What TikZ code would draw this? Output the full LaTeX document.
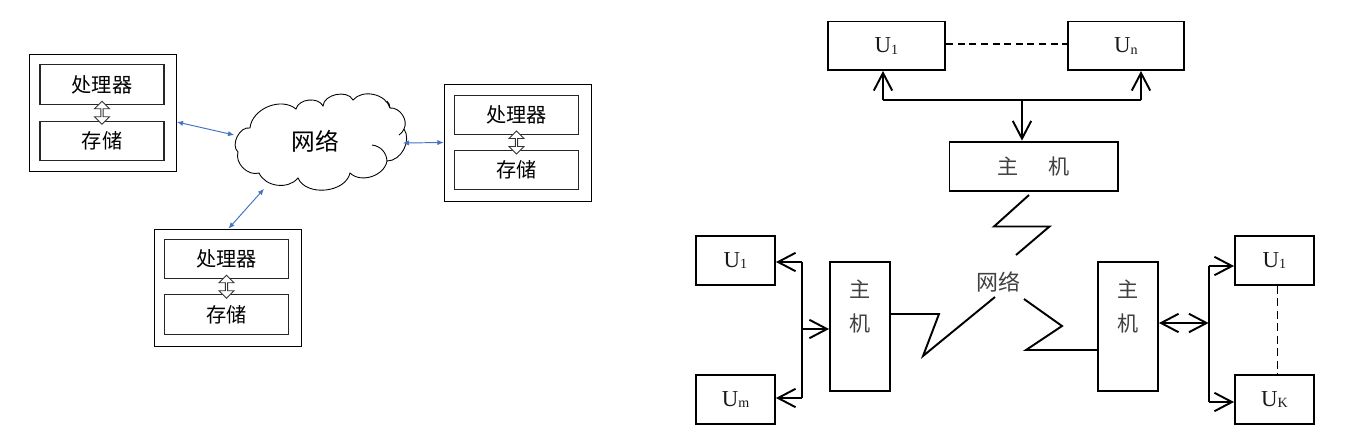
\documentclass[tikz,border=0pt]{standalone}
\usepackage{fontspec}
\setmainfont{Liberation Serif}
\newfontfamily\cjk{Noto Sans CJK SC}
\usetikzlibrary{arrows.meta,calc,shapes.arrows}
\newcommand{\Usub}[1]{U\raisebox{-1pt}{\fontsize{8}{8}\selectfont #1}}
\definecolor{linkblue}{rgb}{0.27,0.45,0.77}
\tikzset{
  pcbox/.style={draw=black,line width=0.45pt,minimum width=2.94cm,minimum height=2.34cm,inner sep=0pt},
  partbox/.style={draw=black!85,line width=0.7pt,minimum width=2.48cm,minimum height=0.79cm,inner sep=0pt,
    font=\cjk\fontsize{11.5}{14}\selectfont,text=black},
  busarrow/.style={draw=black!80,fill=white,line width=0.5pt,double arrow,shape border rotate=90,
    minimum height=0.46cm,minimum width=0.3cm,double arrow head extend=0.05cm,inner sep=0pt},
  netlink/.style={draw=linkblue,line width=0.55pt,{Latex[length=3.5pt,width=3pt]}-{Latex[length=3.5pt,width=3pt]}},
  userbox/.style={draw=black,line width=1.1pt,inner sep=0pt,font=\fontsize{13}{14}\selectfont,text=black!90},
  hostlabel/.style={font=\cjk\fontsize{12}{19.3}\selectfont,align=center,text=black!75},
  wire/.style={draw=black,line width=1.1pt},
  barb/.style={wire,-{Straight Barb[length=10pt,width=10.5pt]}},
  dbarb/.style={wire,{Straight Barb[length=10pt,width=10.5pt]}-{Straight Barb[length=10pt,width=10.5pt]}},
}
\begin{document}
\begin{tikzpicture}[x=0.02cm,y=-0.02cm]
%
\useasboundingbox (0,0) rectangle (1350,444);
%
\node[pcbox] (pcA) at (103,112.5) {};
\node[pcbox] (pcB) at (517.5,142.5) {};
\node[pcbox] (pcC) at (227.5,287.5) {};
\node[partbox] (cpuA) at (102,84.5) {处理器};
\node[partbox] (memA) at (102,141) {存储};
\node[partbox] (cpuB) at (516.5,115) {处理器};
\node[partbox] (memB) at (516.5,170) {存储};
\node[partbox] (cpuC) at (226.5,259) {处理器};
\node[partbox] (memC) at (226.5,314.5) {存储};
%
\node[busarrow] (busA) at ($(cpuA.south)!.5!(memA.north)$) {};
\node[busarrow] (busB) at ($(cpuB.south)!.5!(memB.north)$) {};
\node[busarrow] (busC) at ($(cpuC.south)!.5!(memC.north)$) {};
%
\node[minimum width=3.46cm,minimum height=1.9cm,inner sep=0pt] (net) at (322,141) {};
\node[font=\cjk\fontsize{13.5}{15}\selectfont,text=black,inner sep=0pt] (netText) at (315,141) {网络};
\draw[black,line width=0.5pt] (238,152) to[bend left=75] (250,128) to[bend left=62] (296,109)
  to[bend left=70] (323,106) to[bend left=75] (353,100) to[bend left=62] (390,108)
  to[bend left=62] (404,129) to[bend left=62] (387,161) to[bend left=62] (350,173)
  to[bend left=72] (298,178) to[bend left=58] (259,173) to[bend left=62] (238,152);
\draw[black,line width=0.5pt] (404,129) to[bend left=15] (399,135);
\draw[black,line width=0.5pt] (387,161) to[bend right=40] (372,145);
\draw[black,line width=0.5pt] (390,108) to[bend right=20] (387,101);
%
\draw[netlink] ([yshift=-0.19cm]pcA.east) -- ([xshift=-0.02cm,yshift=0.12cm]net.west);
\draw[netlink] ([xshift=-0.12cm,yshift=-0.04cm]net.east) -- ([yshift=-0.0cm]pcB.west);
\draw[netlink] ([xshift=0.02cm]pcC.north) -- ([xshift=-1.16cm]net.south);
%
\node[userbox,minimum width=2.35cm,minimum height=0.97cm] (topU) at (886.5,45.75) {\Usub{1}};
\node[userbox,minimum width=2.32cm,minimum height=0.97cm] (topN) at (1126,45.75) {\Usub{n}};
\node[userbox,minimum width=3.37cm,minimum height=0.99cm] (topHost) at (1033.75,166.3) {\cjk\fontsize{12}{14}\selectfont\color{black!75}主\hspace{0.6cm}机};
\node[userbox,minimum width=1.58cm,minimum height=0.98cm] (leftU) at (735.5,260.5) {\Usub{1}};
\node[userbox,minimum width=1.58cm,minimum height=0.98cm] (leftM) at (735.5,399.5) {\Usub{m}};
\node[userbox,hostlabel,minimum width=1.2cm,minimum height=2.58cm] (leftHost) at (860,326.5) {主\\机\\[4.5pt]~};
\node[userbox,hostlabel,minimum width=1.2cm,minimum height=2.58cm] (rightHost) at (1128,326.5) {主\\机\\[4.5pt]~};
\node[userbox,minimum width=1.58cm,minimum height=0.98cm] (rightU) at (1274.5,260.5) {\Usub{1}};
\node[userbox,minimum width=1.58cm,minimum height=0.98cm] (rightK) at (1274.5,399.5) {\Usub{K}};
\node[font=\cjk\fontsize{12.5}{14}\selectfont,text=black!75,inner sep=0pt] (wan) at (998,282) {网络};
%
\coordinate (busL) at (883,99.7);
\coordinate (busR) at (1141,99.7);
\coordinate (busT) at (1022,99.7);
\coordinate (leftTop) at (802,262);
\coordinate (leftBot) at (802,398);
\coordinate (leftMid) at (802,329);
\coordinate (rightTop) at (1208.6,266);
\coordinate (rightBot) at (1208.6,402);
\coordinate (rightMid) at (1208.6,323);
%
\draw[wire,dashed,dash pattern=on 4pt off 2.6pt] ([yshift=0.035cm]topU.east) -- ([yshift=0.035cm]topN.west);
\draw[wire] (busL) -- (busR);
\draw[barb] (busL) -- (busL |- topU.south);
\draw[barb] (busR) -- (busR |- topN.south);
\draw[barb] (busT) -- (busT |- topHost.north);
%
\draw[wire] (leftTop) -- (leftBot);
\draw[barb] (leftTop) -- (leftTop -| leftU.east);
\draw[barb] (leftBot) -- (leftBot -| leftM.east);
\draw[barb] (leftMid) -- (leftMid -| leftHost.west);
%
\draw[wire] (rightTop) -- (rightBot);
\draw[barb] (rightTop) -- (rightTop -| rightU.west);
\draw[barb] (rightBot) -- (rightBot -| rightK.west);
\draw[dbarb] (rightMid -| rightHost.east) -- (rightMid);
\draw[black,line width=0.45pt,dash pattern=on 4.5pt off 2.6pt] ([xshift=0.06cm]rightU.south) -- ([xshift=0.06cm]rightK.north);
%
\coordinate (zigTopA) at (1029,195);
\coordinate (zigTopB) at (1016,255);
\coordinate (zigLeftA) at (leftHost.east |- 0,314);
\coordinate (zigLeftB) at (995,297);
\coordinate (zigRightA) at (1024,299);
\coordinate (zigRightB) at (rightHost.west |- 0,350);
\draw[wire] (zigTopA) -- (994,226.5) -- (1049.5,226.5) -- (zigTopB);
\draw[wire] (zigLeftA) -- (939,314) -- (923,356) -- (zigLeftB);
\draw[wire] (zigRightA) -- (1062,326) -- (1026,350) -- (zigRightB);
%
\end{tikzpicture}
\end{document}
